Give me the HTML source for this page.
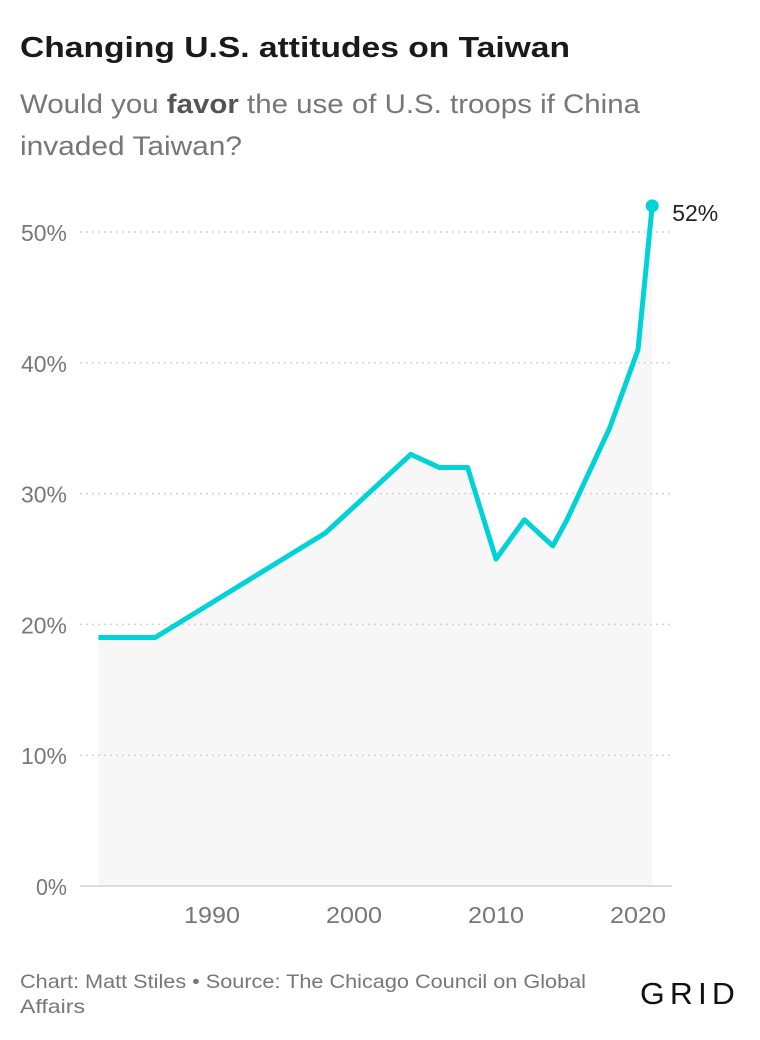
<!DOCTYPE html>
<html><head><meta charset="utf-8"><style>
html,body{margin:0;padding:0;background:#fff;}
svg{display:block;font-family:"Liberation Sans",sans-serif;}
</style></head><body>
<svg width="760" height="1040" viewBox="0 0 760 1040">
<text x="20" y="57" font-size="29" font-weight="bold" fill="#1a1a1a" textLength="550" lengthAdjust="spacingAndGlyphs">Changing U.S. attitudes on Taiwan</text>
<text x="20" y="113" font-size="27" fill="#777" textLength="620" lengthAdjust="spacingAndGlyphs">Would you <tspan font-weight="bold" fill="#555">favor</tspan> the use of U.S. troops if China</text>
<text x="20" y="155" font-size="27" fill="#777" textLength="222" lengthAdjust="spacingAndGlyphs">invaded Taiwan?</text>
<g id="areaLayer"></g>
<g id="grid"></g>
<g id="plot"></g>
<text x="20" y="988" font-size="19.5" fill="#777" textLength="566" lengthAdjust="spacingAndGlyphs">Chart: Matt Stiles • Source: The Chicago Council on Global</text>
<text x="20" y="1013" font-size="19.5" fill="#777" textLength="65" lengthAdjust="spacingAndGlyphs">Affairs</text>
<text x="640" y="1004" font-size="31" fill="#111" letter-spacing="5" textLength="100" lengthAdjust="spacingAndGlyphs">GRID</text>
</svg>
<script>
const years=[1982,1986,1998,2004,2006,2008,2010,2012,2014,2015,2018,2020,2021];
const values=[19,19,27,33,32,32,25,28,26,28,35,41,52];
const yTicks=[0,10,20,30,40,50];
const xTicks=[1990,2000,2010,2020];
const NS="http://www.w3.org/2000/svg";
function X(y){return 212+(y-1990)*14.2;}
function Y(v){return 886-v*13.08;}
function mk(t,a,p){const e=document.createElementNS(NS,t);for(const k in a)e.setAttribute(k,a[k]);p.appendChild(e);return e;}
const grid=document.getElementById('grid'),plot=document.getElementById('plot'),areaLayer=document.getElementById('areaLayer');
yTicks.forEach(v=>{
  if(v>0){const l=mk('line',{x1:80,x2:672,y1:Y(v),y2:Y(v),stroke:'#d4d4d4','stroke-width':1.5,'stroke-dasharray':'2,4'},grid);
  
  }
  const t=mk('text',{x:67,y:Y(v)+9,'font-size':23.5,fill:'#777','text-anchor':'end',textLength:(v===0?31:46),lengthAdjust:'spacingAndGlyphs'},grid);
  t.textContent=v+'%';
  
  
});
xTicks.forEach(y=>{
  const t=mk('text',{x:X(y),y:923,'font-size':23.5,fill:'#777','text-anchor':'middle',textLength:56,lengthAdjust:'spacingAndGlyphs'},grid);
  t.textContent=y;
  
  
});
let d=years.map((y,i)=>(i?'L':'M')+X(y)+','+Y(values[i])).join(' ');
const area=mk('path',{d:d+' L'+X(years[years.length-1])+','+Y(0)+' L'+X(years[0])+','+Y(0)+'Z',fill:'#f7f7f7'},areaLayer);


const base=mk('line',{x1:80,x2:672,y1:Y(0),y2:Y(0),stroke:'#ddd','stroke-width':2},plot);


const line=mk('path',{d:d,fill:'none',stroke:'#00d2d6','stroke-width':5,'stroke-linejoin':'round'},plot);


const n=years.length-1;
const dot=mk('circle',{cx:X(years[n]),cy:Y(values[n]),r:6.5,fill:'#00d2d6'},plot);


const lab=mk('text',{x:X(years[n])+20,y:Y(values[n])+15,'font-size':23.5,fill:'#222',textLength:46,lengthAdjust:'spacingAndGlyphs'},plot);
lab.textContent=values[n]+'%';


</script>
</body></html>
